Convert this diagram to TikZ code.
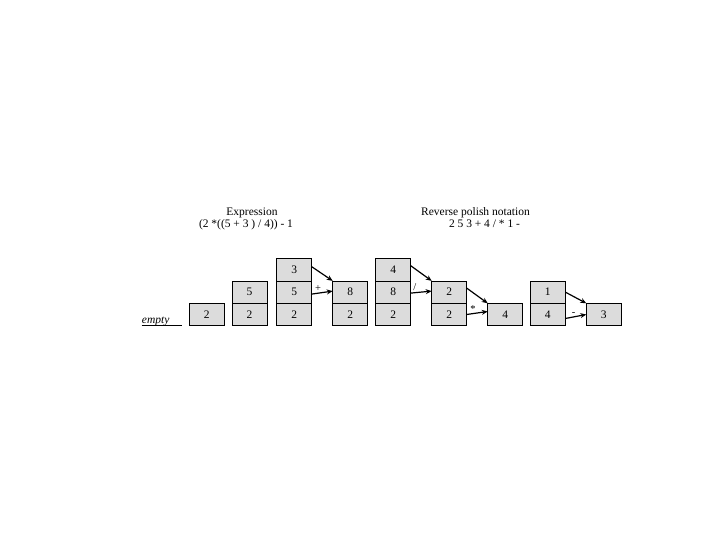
\documentclass[tikz,border=0pt]{standalone}
\usepackage{fontspec}
\setmainfont{Liberation Serif}
\usepackage{xcolor}
\usepackage{tikz}
\usetikzlibrary{arrows, arrows.meta, positioning, calc}
\definecolor{cellgray}{RGB}{220,220,220}

\begin{document}
\begin{tikzpicture}[x=1pt, y=-1pt, >=stealth]
        \tikzstyle{cell} = [rectangle, minimum width=35pt, minimum height=22.4pt, inner sep=0pt, outer sep=0pt, text centered, draw=black, line width=0.7pt, fill=cellgray]
        \tikzstyle{arrow} = [line width=1.2pt,-{Stealth[length=6pt,width=5pt]}]
        \tikzstyle{oplabel} = [font=\fontsize{10.5}{11}\selectfont, inner sep=1pt]
        \tikzstyle{title} = [anchor=base, inner sep=0pt]
        \useasboundingbox (0,0) rectangle (720,540);
        \fontsize{11.5}{13}\selectfont

        % Titles
        \node (exprtitle) [title] at (252,215) {Expression};
        \node (expr) [title] at (246,227) {(2 *((5 + 3 ) / 4)) - 1};
        \node (rpntitle) [title] at (475.5,215) {Reverse polish notation};
        \node (rpn) [title] at (484.5,227) {2 5 3 + 4 / * 1 -};

        % Empty stack
        \node (empty) [anchor=south west, inner sep=0pt, text width=40pt, align=left] at (141.7,325.7) {\textit{empty}};
        \draw [line width=0.7pt] (empty.south west) -- (empty.south east);

        % Stack 1: push 2
        \node (c1a) [cell] at (206.8,314.5) {2};

        % Stack 2: push 5
        \node (c2a) [cell] at (249.5,314.5) {2};
        \node (c2b) [cell, above=0pt of c2a] {5};

        % Stack 3: push 3
        \node (c3a) [cell] at (294.2,314.5) {2};
        \node (c3b) [cell, above=0pt of c3a] {5};
        \node (c3c) [cell, above=0pt of c3b] {3};

        % Stack 4: after +
        \node (c4a) [cell] at (350.2,314.5) {2};
        \node (c4b) [cell, above=0pt of c4a] {8};

        % Stack 5: push 4
        \node (c5a) [cell] at (393.2,314.5) {2};
        \node (c5b) [cell, above=0pt of c5a] {8};
        \node (c5c) [cell, above=0pt of c5b] {4};

        % Stack 6: after /
        \node (c6a) [cell] at (449.2,314.5) {2};
        \node (c6b) [cell, above=0pt of c6a] {2};

        % Stack 7: after *
        \node (c7a) [cell] at (505.2,314.5) {4};

        % Stack 8: push 1
        \node (c8a) [cell] at (547.8,314.5) {4};
        \node (c8b) [cell, above=0pt of c8a] {1};

        % Stack 9: after -
        \node (c9a) [cell] at (603.8,314.5) {3};

        % Arrows
        \draw [arrow] ([yshift=3pt]c3c.east) -- (c4b.north west);
        \draw [arrow] ([yshift=-2pt]c3b.east) -- node[oplabel, pos=0.3, above] {+} ([yshift=1pt]c4b.west);
        \draw [arrow] ([yshift=4pt]c5c.east) -- (c6b.north west);
        \draw [arrow] ([yshift=-1pt]c5b.east) -- node[oplabel, pos=0.2, above] {/} ([yshift=1pt]c6b.west);
        \draw [arrow] ([yshift=4pt]c6b.east) -- (c7a.north west);
        \draw [arrow] (c6a.east) -- node[oplabel, pos=0.3, above] {*} ([yshift=3pt]c7a.west);
        \draw [arrow] (c8b.east) -- (c9a.north west);
        \draw [arrow] ([yshift=-4pt]c8a.east) -- node[oplabel, pos=0.4, above] {-} (c9a.west);
    \end{tikzpicture}
\end{document}
